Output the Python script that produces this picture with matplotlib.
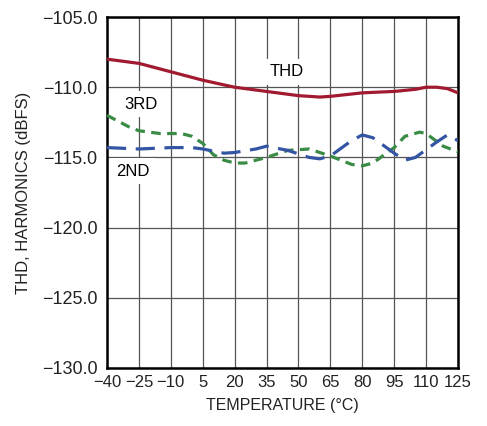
import matplotlib
matplotlib.use('Agg')
import matplotlib.pyplot as plt

# values
thd_t = [-40, -25, -10, 5, 20, 35, 50, 60, 65, 80, 95, 105, 110, 115, 120, 125]
thd_v = [-108.0, -108.3, -108.9, -109.5, -110.0, -110.3, -110.6, -110.7, -110.65,
         -110.4, -110.3, -110.15, -110.0, -110.0, -110.1, -110.4]

h3_t = [-40, -30, -25, -15, -5, 0, 5, 10, 15, 20, 25, 30, 35, 45, 55, 65, 75, 80,
        85, 95, 100, 107, 110, 118, 125]
h3_v = [-112.0, -112.8, -113.1, -113.3, -113.3, -113.5, -114.0, -114.8, -115.2,
        -115.4, -115.4, -115.2, -115.0, -114.5, -114.4, -114.9, -115.5, -115.6,
        -115.4, -114.3, -113.5, -113.2, -113.3, -114.2, -114.6]

h2_t = [-40, -25, -10, 0, 5, 15, 20, 30, 35, 45, 55, 60, 65, 75, 80, 85, 95, 100,
        105, 115, 120, 125]
h2_v = [-114.3, -114.4, -114.3, -114.3, -114.4, -114.7, -114.65, -114.4, -114.2,
        -114.5, -115.0, -115.1, -114.9, -113.8, -113.4, -113.6, -114.7, -115.2,
        -115.0, -113.9, -113.4, -113.8]

xticks = [-40, -25, -10, 5, 20, 35, 50, 65, 80, 95, 110, 125]
yticks = [-130, -125, -120, -115, -110, -105]

plt.rcParams['font.family'] = ['Liberation Sans', 'DejaVu Sans']

fig = plt.figure(figsize=(4.87, 4.26), dpi=100)
ax = fig.add_axes([0.2197, 0.1362, 0.7208, 0.8238])

ax.plot(thd_t, thd_v, color='#a11a30', lw=2.3, solid_capstyle='butt', zorder=3)
ax.plot(h3_t, h3_v, color='#3a8c45', lw=2.3, dashes=(3, 2), zorder=3)
ax.plot(h2_t, h2_v, color='#3454a4', lw=2.3, dashes=(6, 3), zorder=3)

ax.set_xlim(-40, 125)
ax.set_ylim(-130, -105)
ax.set_xticks(xticks)
ax.set_yticks(yticks)
ax.set_xticklabels([str(t).replace('-', '\u2212') for t in xticks])
ax.set_yticklabels([('%.1f' % v).replace('-', '\u2212') for v in yticks])
ax.tick_params(axis='y', length=0, labelsize=13, pad=7, colors='#222222')
ax.tick_params(axis='x', length=0, labelsize=12, pad=5, colors='#222222')
ax.grid(True, color='#555555', lw=0.9)
for s in ax.spines.values():
    s.set_linewidth(1.8)

box = dict(facecolor='white', edgecolor='none', pad=4)
ax.text(44.6, -108.9, 'THD', fontsize=12, ha='center', va='center', bbox=box, zorder=2)
ax.text(-24, -111.2, '3RD', fontsize=12, ha='center', va='center', bbox=box, zorder=2)
ax.text(-28, -116.0, '2ND', fontsize=12, ha='center', va='center', bbox=box, zorder=2)

ax.set_xlabel('TEMPERATURE (°C)', fontsize=11.5, labelpad=6, color='#222222')
ax.set_ylabel('THD, HARMONICS (dBFS)', fontsize=12, labelpad=8, color='#222222')

fig.savefig('out.png', dpi=100)
